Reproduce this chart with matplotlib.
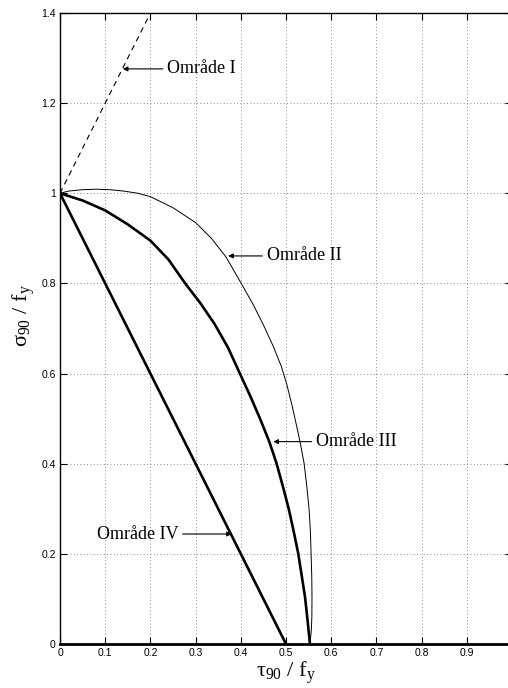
import matplotlib
matplotlib.use("Agg")
import matplotlib.pyplot as plt

plt.rcParams['mathtext.fontset'] = 'custom'
plt.rcParams['mathtext.rm'] = 'Liberation Serif'
plt.rcParams['mathtext.it'] = 'Liberation Serif:italic'

# område I - streckad linje
omr1_x = [0.0, 0.195]
omr1_y = [1.0, 1.39]

# område II - tunn kurva
omr2_x = [0.0, 0.02, 0.05, 0.08, 0.11, 0.14, 0.173, 0.2, 0.25, 0.3, 0.335,
          0.367, 0.401, 0.428, 0.45, 0.472, 0.49, 0.502, 0.512, 0.521, 0.531,
          0.54, 0.546, 0.551, 0.554, 0.5555, 0.557, 0.5575, 0.5572, 0.556, 0.553]
omr2_y = [1.0, 1.005, 1.008, 1.009, 1.008, 1.005, 1.0, 0.9925, 0.968, 0.935, 0.9,
          0.859, 0.8, 0.752, 0.708, 0.66, 0.615, 0.575, 0.535, 0.495, 0.449,
          0.401, 0.35, 0.3, 0.25, 0.2, 0.15, 0.105, 0.06, 0.03, 0.0]

# område III - tjock kurva
omr3_x = [0.0, 0.05, 0.1, 0.15, 0.2, 0.24, 0.277, 0.31, 0.342, 0.372, 0.398,
          0.421, 0.4425, 0.463, 0.479, 0.493, 0.506, 0.517, 0.527, 0.535,
          0.542, 0.548, 0.553]
omr3_y = [1.0, 0.984, 0.962, 0.931, 0.895, 0.853, 0.8, 0.757, 0.71, 0.657, 0.6,
          0.55, 0.5, 0.449, 0.401, 0.35, 0.3, 0.25, 0.201, 0.15,
          0.105, 0.05, 0.0]

# område IV - rät linje
omr4_x = [0.0, 0.5]
omr4_y = [1.0, 0.0]

xticks = [0, 0.1, 0.2, 0.3, 0.4, 0.5, 0.6, 0.7, 0.8, 0.9]
xtick_labels = ['0', '0.1', '0.2', '0.3', '0.4', '0.5', '0.6', '0.7', '0.8', '0.9']
yticks = [0, 0.2, 0.4, 0.6, 0.8, 1.0, 1.2, 1.4]
ytick_labels = ['0', '0.2', '0.4', '0.6', '0.8', '1', '1.2', '1.4']

fig = plt.figure(figsize=(5.08, 6.88), dpi=100)
ax = fig.add_axes([60 / 508, 44 / 688, 452 / 508, 631 / 688])

ax.plot(omr1_x, omr1_y, color='k', lw=0.8, linestyle=(0, (5, 4)))
ax.plot(omr2_x, omr2_y, color='k', lw=0.7)
ax.plot(omr3_x, omr3_y, color='k', lw=1.9)
ax.plot(omr4_x, omr4_y, color='k', lw=1.9)

ax.set_xlim(0, 1)
ax.set_ylim(0, 1.4)
ax.set_xticks(xticks)
ax.set_xticklabels(xtick_labels)
ax.set_yticks(yticks)
ax.set_yticklabels(ytick_labels)
ax.tick_params(direction='in', length=5, width=0.8, top=True, right=True,
               labelsize=7.5, pad=3)
for lab in ax.get_xticklabels() + ax.get_yticklabels():
    lab.set_family('Liberation Sans')

ax.grid(True, linestyle=(0, (1, 3)), color='0.4', lw=0.6)
for side in ['top', 'left', 'right']:
    ax.spines[side].set_linewidth(1.0)
ax.spines['bottom'].set_linewidth(2.0)

ax.set_xlabel(r'τ$_{\mathrm{90}}$ / f$_{\mathrm{y}}$', fontsize=16, family='Liberation Serif', labelpad=1)
ax.set_ylabel(r'σ$_{\mathrm{90}}$ / f$_{\mathrm{y}}$', fontsize=16, family='Liberation Serif')
ax.yaxis.set_label_coords(-0.05, 0.52)

arrow = dict(arrowstyle='-|>', color='k', lw=0.8, mutation_scale=7, shrinkA=1, shrinkB=0)
txt = dict(fontsize=13, family='Liberation Serif', va='center')
ax.annotate('Område I', xy=(0.139, 1.276), xytext=(0.237, 1.276), ha='left', arrowprops=arrow, **txt)
ax.annotate('Område II', xy=(0.372, 0.861), xytext=(0.457, 0.861), ha='left', arrowprops=arrow, **txt)
ax.annotate('Område III', xy=(0.472, 0.449), xytext=(0.566, 0.449), ha='left', arrowprops=arrow, **txt)
ax.annotate('Område IV', xy=(0.380, 0.244), xytext=(0.262, 0.244), ha='right', arrowprops=arrow, **txt)

fig.savefig('out.png', dpi=100)
